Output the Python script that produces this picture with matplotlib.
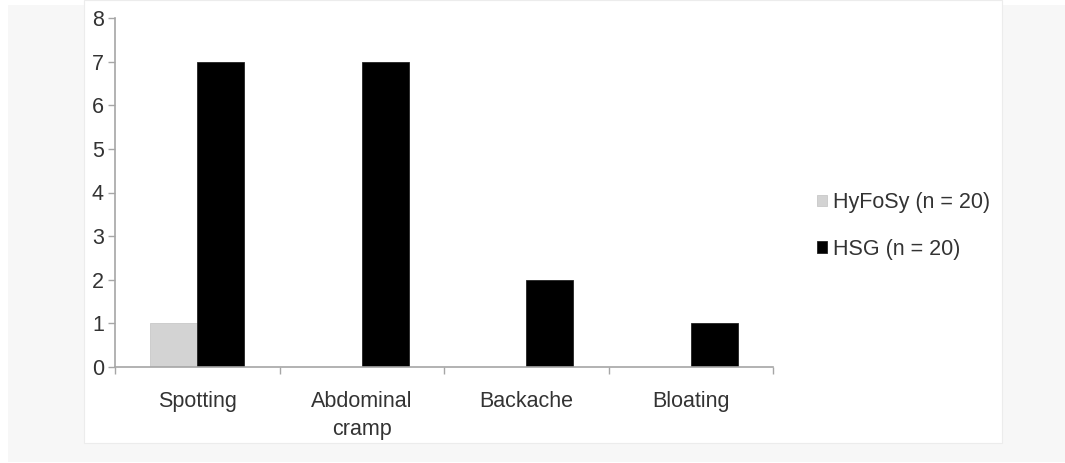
import numpy as np
import matplotlib.pyplot as plt
from matplotlib.patches import Rectangle

categories = ["Spotting", "Abdominal\ncramp", "Backache", "Bloating"]
hyfosy = [1, 0, 0, 0]
hsg = [7, 7, 2, 1]
series_labels = ["HyFoSy (n = 20)", "HSG (n = 20)"]
y_ticks = [0, 1, 2, 3, 4, 5, 6, 7, 8]

W, H = 1065, 463
FS = 15.5
plt.rcParams["font.family"] = ["Liberation Sans", "DejaVu Sans"]

fig = plt.figure(figsize=(W / 100, H / 100), dpi=100)
fig.patch.set_facecolor("white")

# page-like background: light gray frame with a white panel
fig.patches.append(Rectangle((8 / W, 1 - 462 / H), (W - 8) / W, 457 / H,
                             transform=fig.transFigure, facecolor="#f7f7f7",
                             edgecolor="none", zorder=-2))
fig.patches.append(Rectangle((84 / W, 1 - 443 / H), (1002 - 84) / W, 443 / H,
                             transform=fig.transFigure, facecolor="white",
                             edgecolor="#ececec", linewidth=0.8, zorder=-1))

ax = fig.add_axes([115 / W, 1 - 367 / H, (773 - 115) / W, (367 - 18) / H])
ax.set_facecolor("none")

x = np.arange(len(categories)) + 0.5
bw = 0.285
ax.bar(x - bw / 2, hyfosy, width=bw, color="#d3d3d3", edgecolor="#c8c8c8",
       linewidth=0.6, label=series_labels[0])
ax.bar(x + bw / 2, hsg, width=bw, color="black", edgecolor="#222222",
       linewidth=0.6, label=series_labels[1])

ax.set_xlim(0, len(categories))
ax.set_ylim(0, 8)
ax.set_yticks(y_ticks)

ax.set_xticks(np.arange(len(categories) + 1))
ax.set_xticklabels([])
ax.set_xticks(x, minor=True)
ax.set_xticklabels(categories, minor=True, linespacing=1.45)

for s in ["top", "right"]:
    ax.spines[s].set_visible(False)
for s in ["left", "bottom"]:
    ax.spines[s].set_color("#a6a6a6")
    ax.spines[s].set_linewidth(1.2)

ax.tick_params(axis="y", direction="out", length=5, width=1, color="#a6a6a6",
               labelsize=FS, labelcolor="#333333", pad=3)
ax.tick_params(axis="x", which="major", direction="out", length=5, width=1,
               color="#a6a6a6")
ax.tick_params(axis="x", which="minor", length=0, labelsize=FS,
               labelcolor="#333333", pad=17)

fig.legend(loc="center left", bbox_to_anchor=(817 / W, 1 - 226 / H),
           frameon=False, fontsize=FS, labelcolor="#333333",
           handlelength=0.45, handleheight=0.45, handletextpad=0.3,
           labelspacing=1.2, borderpad=0, borderaxespad=0)

plt.savefig("out.png", dpi=100)
plt.close()
